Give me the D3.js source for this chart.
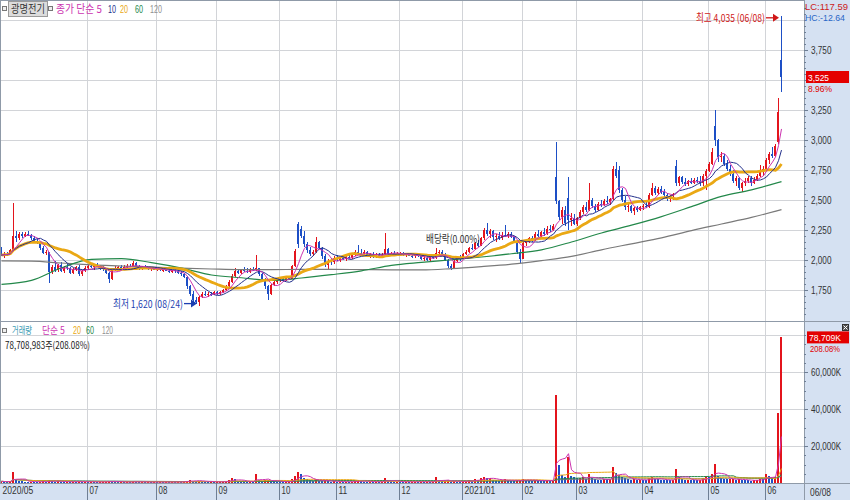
<!DOCTYPE html>
<html><head><meta charset="utf-8">
<script src="https://cdn.jsdelivr.net/npm/d3@7"></script>
<style>
body{margin:0;background:#fff;}
svg{display:block;font-family:"Noto Sans CJK KR","Noto Sans",sans-serif;}
</style></head><body>
<svg id="c" width="850" height="500"></svg>
<script>
// ---------- DATA ----------
const monthIdx = [0,29,52,72,93,112,133,154,174,192,214,236,255];
const monthLabels = ["2020/05","07","08","09","10","11","12","2021/01","02","03","04","05","06"];
const priceTicks = [1750,2000,2250,2500,2750,3000,3250,3750];
const priceGrid = [1750,2000,2250,2500,2750,3000,3250,3500,3750,4000];
const volTicks = [20000,40000,60000];
const volGrid = [20000,40000,60000,80000];
const lastDateLabel = "06/08";

const opens = [
2100,2040,2050,2045,2080,2200,2180,
2215,2200,2220,2210,2180,2160,2140,2100,2060,2070,1900,1940,1920,1960,1910,1940,1930,1890,1920,1940,1880,1910,
1930,1950,1940,1955,1945,1930,1925,1890,1840,1920,1930,1940,1935,1945,1950,1945,1975,1945,1930,1940,1935,1925,1930,
1920,1925,1915,1920,1910,1900,1915,1905,1890,1880,1860,1780,1720,1670,1650,1690,1720,1710,1720,1715,
1730,1720,1735,1750,1780,1820,1870,1910,1890,1915,1910,1900,1925,1915,1930,1880,1840,1780,1720,1790,1815,
1830,1840,1835,1850,1845,1950,2300,2260,2200,2130,2080,2050,2070,2150,2100,2030,1960,1990,1980,
2020,2000,2020,2010,2025,2015,2040,2070,2060,2045,2065,2040,2050,2030,2045,2035,2040,2090,2050,2060,2045,
2050,2055,2040,2050,2035,2030,2045,2030,2010,2020,2000,2025,2015,2060,2070,2045,2000,1950,1935,1990,2020,
2010,2050,2070,2100,2090,2140,2120,2180,2250,2220,2240,2190,2200,2180,2210,2200,2215,2190,2160,2070,
2010,2140,2150,2180,2170,2220,2200,2230,2215,2260,2250,2690,2490,2360,2420,2520,2330,2350,
2300,2350,2400,2440,2420,2500,2450,2420,2470,2460,2490,2480,2510,2760,2750,2580,2500,2440,2450,2410,2430,2420,
2440,2450,2440,2540,2600,2560,2590,2570,2540,2510,2530,2780,2640,2690,2650,2630,2660,2645,2670,2655,2640,2700,
2740,2800,3120,3000,2860,2870,2800,2760,2720,2660,2680,2600,2640,2660,2680,2640,2670,2700,2740,
2760,2830,2880,2870,2980,3665];
const highs = [
2110,2070,2070,2090,2475,2240,2230,
2230,2230,2240,2220,2200,2180,2150,2120,2080,2070,1960,1990,1970,1980,1950,1970,1940,1930,1950,1960,1920,1950,
1960,1970,1965,1975,1960,1950,1935,1900,1930,1950,1950,1960,1955,1965,1970,1990,1985,1955,1950,1955,1945,1940,1945,
1935,1940,1930,1935,1925,1920,1925,1915,1905,1890,1865,1790,1740,1690,1700,1730,1740,1730,1735,1740,
1745,1740,1760,1790,1830,1880,1930,1920,1925,1940,1930,1935,1945,2040,1935,1890,1850,1790,1800,1830,1840,
1850,1855,1860,1870,1960,2090,2320,2280,2240,2150,2110,2080,2190,2160,2110,2050,2010,2020,2030,
2040,2030,2040,2035,2045,2050,2080,2125,2090,2080,2075,2060,2065,2055,2060,2055,2225,2100,2070,2075,2065,
2070,2065,2060,2060,2050,2055,2060,2040,2030,2030,2035,2040,2100,2080,2085,2060,2010,1970,2000,2030,2040,
2060,2080,2110,2130,2150,2170,2190,2270,2310,2260,2250,2220,2230,2230,2290,2235,2230,2200,2170,2090,
2150,2170,2190,2200,2230,2250,2240,2270,2280,2290,2300,2985,2500,2440,2450,2690,2390,2380,
2360,2420,2460,2480,2640,2520,2470,2480,2500,2510,2530,2520,2780,2820,2780,2600,2530,2470,2460,2440,2450,2450,
2470,2480,2560,2640,2620,2610,2620,2590,2560,2540,2560,2835,2700,2700,2680,2670,2680,2680,2690,2700,2720,2760,
2820,2930,3250,3010,2900,2880,2830,2790,2750,2700,2690,2650,2680,2700,2700,2690,2720,2790,2780,
2850,2900,2940,2970,3350,4035];
const lows = [
2030,2020,2030,2040,2075,2150,2170,
2180,2190,2200,2170,2150,2130,2080,2050,2040,1810,1880,1900,1900,1900,1890,1920,1880,1880,1910,1870,1870,1900,
1920,1930,1920,1940,1920,1910,1880,1810,1830,1910,1915,1925,1920,1935,1940,1940,1935,1920,1920,1925,1915,1910,1915,
1905,1910,1900,1905,1890,1890,1895,1880,1870,1850,1760,1700,1650,1630,1620,1680,1700,1695,1700,1705,
1705,1710,1725,1745,1770,1810,1860,1880,1880,1900,1890,1895,1905,1905,1870,1820,1760,1670,1710,1780,1800,
1815,1820,1825,1830,1840,1940,2100,2180,2110,2060,2030,2030,2060,2090,2010,1940,1915,1960,1970,
1990,1985,2000,1995,2005,2010,2030,2050,2030,2035,2030,2020,2020,2015,2025,2020,2035,2040,2030,2035,2030,
2030,2035,2025,2030,2015,2020,2025,2000,1995,1990,1995,2005,2010,2035,2030,1990,1930,1915,1930,1980,1995,
2005,2040,2060,2080,2085,2110,2115,2170,2200,2180,2170,2150,2170,2170,2190,2180,2180,2150,2050,1975,
2005,2120,2140,2150,2160,2190,2180,2200,2210,2230,2240,2470,2330,2300,2280,2250,2280,2290,
2280,2330,2380,2400,2410,2430,2400,2410,2440,2450,2470,2460,2500,2680,2560,2480,2420,2400,2390,2375,2400,2410,
2420,2430,2430,2530,2540,2540,2550,2520,2490,2480,2500,2620,2620,2630,2620,2620,2630,2630,2640,2620,2620,2580,
2730,2790,2950,2820,2820,2780,2740,2700,2640,2620,2580,2570,2620,2640,2620,2630,2660,2690,2700,
2750,2800,2850,2860,2970,3400];
const closes = [
2040,2050,2045,2080,2200,2180,2215,
2200,2220,2210,2180,2160,2140,2100,2060,2070,1900,1940,1920,1960,1910,1940,1930,1890,1920,1940,1880,1910,1930,
1950,1940,1955,1945,1930,1925,1890,1840,1920,1930,1940,1935,1945,1950,1945,1975,1945,1930,1940,1935,1925,1930,1920,
1925,1915,1920,1910,1900,1915,1905,1890,1880,1860,1780,1720,1670,1650,1690,1720,1710,1720,1715,1730,
1720,1735,1750,1780,1820,1870,1910,1890,1915,1910,1900,1925,1915,1930,1880,1840,1780,1720,1790,1815,1830,
1840,1835,1850,1845,1950,2075,2130,2200,2130,2080,2050,2070,2150,2100,2030,1960,1990,1980,2020,
2000,2020,2010,2025,2015,2040,2070,2060,2045,2065,2040,2050,2030,2045,2035,2040,2090,2050,2060,2045,2050,
2055,2040,2050,2035,2030,2045,2030,2010,2020,2000,2025,2015,2060,2070,2045,2000,1950,1935,1990,2020,2010,
2050,2070,2100,2090,2140,2120,2180,2250,2220,2240,2190,2200,2180,2210,2200,2215,2190,2160,2070,2010,
2140,2150,2180,2170,2220,2200,2230,2215,2260,2250,2280,2490,2360,2420,2310,2330,2350,2300,
2350,2400,2440,2420,2500,2450,2420,2470,2460,2490,2480,2510,2760,2700,2580,2500,2440,2450,2410,2430,2420,2440,
2450,2440,2540,2600,2560,2590,2570,2540,2510,2530,2550,2640,2690,2650,2630,2660,2645,2670,2655,2640,2700,2740,
2800,2900,3000,2860,2870,2800,2760,2720,2660,2680,2600,2640,2660,2680,2640,2670,2700,2740,2760,
2830,2880,2870,2950,3235,3525];
// volume in thousand shares
const volumes = [
900,700,600,1100,5900,1800,1000,
900,800,700,800,700,600,700,900,600,1500,1100,800,900,700,600,700,600,800,700,900,600,700,
600,700,600,500,600,700,800,1200,900,600,500,600,500,600,500,900,700,500,600,500,600,500,600,
500,600,500,600,500,600,500,700,600,800,1300,1500,1200,1000,1300,900,700,600,700,600,
600,700,800,1000,1600,2700,1900,1100,900,800,700,900,800,4900,1500,1000,1400,1800,1200,900,800,
700,600,700,800,1900,3800,6000,4800,2700,2000,1500,1200,2100,1300,1100,1400,1000,800,900,
700,800,600,700,600,800,1100,1500,900,800,700,800,600,700,600,700,2700,1200,900,700,800,
700,600,700,600,700,800,600,700,600,700,600,700,3200,1400,900,1000,1300,900,1000,800,700,
900,1100,1500,1200,2000,1500,2500,3000,2600,2800,1700,1400,1300,1600,2000,1400,1200,1100,1500,1600,
2100,1500,1300,1200,1600,1300,1200,1100,1500,1300,1800,47500,9700,4500,3500,14000,4000,3000,
2600,2800,3000,2200,4800,2500,2000,1800,1700,2200,1900,2100,8600,5600,4200,3000,2600,2000,1800,1900,1600,1700,
1600,1500,2800,3200,2000,1900,1700,1600,1500,1400,1800,7600,3200,2100,1700,1800,1600,1500,1400,1500,2600,3800,
3500,5000,10500,4000,2800,2200,1900,2000,2200,1800,2100,1600,1500,1400,1300,1500,1700,2200,2000,
4900,3600,2500,3000,37800,78709];
const maDays = [0,10,20,30,40,50,60,70,80,90,100,110,120,130,140,150,160,170,180,190,200,210,220,230,240,250,260];
const ma60 = [1797,1830,1935,2005,2012,1978,1933,1875,1852,1830,1850,1878,1910,1955,1980,2002,2025,2052,2085,2150,2225,2290,2362,2445,2530,2585,2653];
const ma120 = [1992,1990,1975,1960,1950,1940,1932,1925,1920,1920,1922,1922,1920,1918,1917,1928,1945,1965,1995,2030,2085,2135,2185,2245,2300,2355,2420];
const exDivIdx = 142;

// ---------- SETUP ----------
const PR = 804;
const RED = "#e3141c", BLUE = "#1d4fc6";
const C5 = "#cc33b0", C10 = "#23308c", C20 = "#eaa814", C60 = "#23884a", C120 = "#7a7a7a";
const LAT = "'Liberation Sans','DejaVu Sans',sans-serif";
const svg = d3.select("#c");
const x = d3.scaleLinear().domain([0, 268]).range([0, PR]);
const yP = d3.scaleLinear().domain([2000, 3750]).range([260, 50]);
const yV = d3.scaleLinear().domain([0, 20000]).range([483, 446]);
const fmt = d3.format(",");

// squeeze a text horizontally to width w with a real transform (keeps bbox honest)
function squeeze(sel, w, tx, ty){
  const n = sel.node().getComputedTextLength();
  const s = n > 0 ? w / n : 1;
  sel.attr("x", 0).attr("y", 0).attr("transform", `translate(${tx},${ty}) scale(${s},1)`);
  return sel;
}
function txt(s, tx, ty, color, w, size){
  const kor = /[\uac00-\ud7a3]/.test(s);
  const t = svg.append("text").attr("fill", color)
    .attr("font-family", kor ? null : LAT)
    .attr("font-size", size || (kor ? 11 : 9.5)).text(s);
  return squeeze(t, w, tx, ty);
}

svg.append("rect").attr("width",850).attr("height",500).attr("fill","#fff");
svg.append("rect").attr("x",PR).attr("y",0).attr("width",850-PR).attr("height",500).attr("fill","#d5e1f2");
svg.append("rect").attr("x",0).attr("y",483).attr("width",850).attr("height",17).attr("fill","#d5e1f2");

// grid
const grid = svg.append("g").attr("stroke","#d2d4d8").attr("shape-rendering","crispEdges");
priceGrid.forEach(p => grid.append("line").attr("x1",0).attr("x2",PR).attr("y1",Math.round(yP(p))+0.5).attr("y2",Math.round(yP(p))+0.5));
volGrid.forEach(v => grid.append("line").attr("x1",0).attr("x2",PR).attr("y1",Math.round(yV(v))+0.5).attr("y2",Math.round(yV(v))+0.5));
monthIdx.slice(1).forEach(i => grid.append("line").attr("x1",Math.round(x(i))+0.5).attr("x2",Math.round(x(i))+0.5).attr("y1",0).attr("y2",483));

// frame
const frame = svg.append("g").attr("stroke","#8f9aa8").attr("shape-rendering","crispEdges");
frame.append("line").attr("x1",0.5).attr("x2",0.5).attr("y1",0).attr("y2",483);
frame.append("line").attr("x1",0).attr("x2",PR).attr("y1",0.5).attr("y2",0.5);
frame.append("line").attr("x1",0).attr("x2",850).attr("y1",321.5).attr("y2",321.5);
frame.append("line").attr("x1",0).attr("x2",850).attr("y1",483.5).attr("y2",483.5);
frame.append("line").attr("x1",PR+0.5).attr("x2",PR+0.5).attr("y1",0).attr("y2",500);

// clips
const defs = svg.append("defs");
defs.append("clipPath").attr("id","cp").append("rect").attr("x",1).attr("y",1).attr("width",PR-1).attr("height",320);
defs.append("clipPath").attr("id","cv").append("rect").attr("x",1).attr("y",322).attr("width",PR-1).attr("height",161);

// ---------- PRICE ----------
const gP = svg.append("g").attr("clip-path","url(#cp)");
const idx = d3.range(closes.length);
gP.append("g").attr("shape-rendering","crispEdges").selectAll("g").data(idx).join("g").each(function(i){
  const g = d3.select(this);
  const up = closes[i] >= opens[i];
  const col = up ? RED : BLUE;
  const x0 = Math.round(x(i));
  g.append("rect").attr("x", x0+1).attr("width",1)
    .attr("y", yP(highs[i])).attr("height", Math.max(1, yP(lows[i]) - yP(highs[i]))).attr("fill", col);
  const top = yP(Math.max(opens[i], closes[i])), bot = yP(Math.min(opens[i], closes[i]));
  g.append("rect").attr("x", x0).attr("width",2)
    .attr("y", top).attr("height", Math.max(1, bot-top)).attr("fill", col);
});

function sma(arr, n){ return arr.map((_, i) => d3.mean(arr.slice(Math.max(0, i-n+1), i+1))); }
const lineI = d3.line().x((d,i) => x(i+0.5)).y(d => yP(d));
const lineS = d3.line().x((d,k) => x(maDays[k]+0.5)).y(d => yP(d)).curve(d3.curveMonotoneX);
gP.append("path").attr("d", lineS(ma120)).attr("fill","none").attr("stroke",C120).attr("stroke-width",1.2);
gP.append("path").attr("d", lineS(ma60)).attr("fill","none").attr("stroke",C60).attr("stroke-width",1.2);
gP.append("path").attr("d", lineI(sma(closes,20))).attr("fill","none").attr("stroke",C20).attr("stroke-width",2.8);
gP.append("path").attr("d", lineI(sma(closes,10))).attr("fill","none").attr("stroke",C10).attr("stroke-width",1);
gP.append("path").attr("d", lineI(sma(closes,5))).attr("fill","none").attr("stroke",C5).attr("stroke-width",1);

// ---------- VOLUME ----------
const gV = svg.append("g").attr("clip-path","url(#cv)");
gV.append("g").attr("shape-rendering","crispEdges").selectAll("rect").data(idx).join("rect")
  .attr("x", i => Math.round(x(i))).attr("width", 2)
  .attr("y", i => yV(volumes[i])).attr("height", i => Math.max(1, yV(0) - yV(volumes[i])))
  .attr("fill", i => (i === 0 || volumes[i] >= volumes[i-1]) ? RED : BLUE);
const lineV = d3.line().x((d,i) => x(i+0.5)).y(d => yV(d));
[[120,C120],[60,C60],[20,C20],[5,C5]].forEach(([n,c]) =>
  gV.append("path").attr("d", lineV(sma(volumes,n))).attr("fill","none").attr("stroke",c).attr("stroke-width",1));

// ---------- AXES ----------
const axP = svg.append("g").attr("transform",`translate(${PR},0)`)
  .call(d3.axisRight(yP).tickValues(priceTicks).tickSize(4).tickPadding(3).tickFormat(fmt));
const axPm = svg.append("g").attr("transform",`translate(${PR},0)`)
  .call(d3.axisRight(yP).tickValues(d3.range(1550, 4150, 50)).tickSize(2).tickFormat(""));
const axV = svg.append("g").attr("transform",`translate(${PR},0)`)
  .call(d3.axisRight(yV).tickValues(volTicks).tickSize(4).tickPadding(3).tickFormat(d => fmt(d)+"K"));
const axVm = svg.append("g").attr("transform",`translate(${PR},0)`)
  .call(d3.axisRight(yV).tickValues(d3.range(5000, 85000, 5000)).tickSize(2).tickFormat(""));
const axX = svg.append("g").attr("transform","translate(0,483)")
  .call(d3.axisBottom(x).tickValues(monthIdx).tickSize(17).tickFormat((d,k) => monthLabels[k]));
[axP, axPm, axV, axVm, axX].forEach(a => {
  a.select(".domain").remove();
  a.selectAll(".tick line").attr("stroke","#6f7f95").attr("shape-rendering","crispEdges");
  a.attr("font-family", LAT).attr("font-size", null);
  a.selectAll("text").attr("fill","#333").attr("font-size",10);
});
[axPm, axVm].forEach(a => a.selectAll("text").remove());
axP.selectAll("text").each(function(){ const s = d3.select(this); squeeze(s, s.text().length*4.1, 7, 0); s.attr("dy","0.32em"); });
axV.selectAll("text").each(function(){ const s = d3.select(this); squeeze(s, s.text().length*4.3, 7, 0); s.attr("dy","0.32em"); });
axX.selectAll(".tick").filter(d => d === 0).select("line").remove();
axX.selectAll("text").attr("text-anchor","start").attr("dy","0.75em")
  .each(function(){ const s = d3.select(this); squeeze(s, s.text().length*4.4, 2, 3); s.attr("y",0); });
txt(lastDateLabel, 810, 496, "#333", 21, 10);

// ---------- LABELS ----------
// top-left legend
svg.append("rect").attr("x",2.5).attr("y",6.5).attr("width",4).attr("height",4).attr("fill","#eee").attr("stroke","#777");
svg.append("rect").attr("x",8.5).attr("y",1.5).attr("width",39).attr("height",15).attr("fill","#dcdcdc").attr("stroke","#9a9a9a");
txt("광명전기", 11, 13, "#333", 34);
svg.append("rect").attr("x",48.5).attr("y",6.5).attr("width",4).attr("height",4).attr("fill","#eee").attr("stroke","#777");
txt("종가 단순 5", 56, 13, C5, 46);
txt("10", 108, 13, C10, 8, 10.5);
txt("20", 120, 13, C20, 8, 10.5);
txt("60", 135, 13, C60, 8, 10.5);
txt("120", 150, 13, "#909090", 12, 10.5);

// volume legend
svg.append("rect").attr("x",2.5).attr("y",328.5).attr("width",4).attr("height",4).attr("fill","#eee").attr("stroke","#777");
txt("거래량", 12, 333.5, "#3a9cb4", 20, 10);
txt("단순 5", 42, 333.5, C5, 23, 10);
txt("20", 73, 333.5, C20, 8, 10);
txt("60", 86, 333.5, C60, 8, 10);
txt("120", 102, 333.5, "#909090", 11, 10);
txt("78,708,983주(208.08%)", 5, 348.5, "#222", 85, 10);

// right panel texts
txt("LC:117.59", 805, 10, "#cc2020", 43, 9);
txt("HC:-12.64", 805, 20.5, "#2a66c6", 40, 9);
const last = closes.length - 1;
const lastY = yP(closes[last]);
svg.append("rect").attr("x",806).attr("y",lastY-6).attr("width",43).attr("height",12).attr("fill","#e40000");
txt(fmt(closes[last]), 808, lastY+3.5, "#fff", 21, 9);
txt("8.96%", 808, lastY+15, "#e00000", 24, 9);
const lvY = yV(volumes[last]);
svg.append("rect").attr("x",807).attr("y",lvY-6).attr("width",42).attr("height",12).attr("fill","#e40000");
txt("78,709K", 809, lvY+3.5, "#fff", 32, 9);
txt("208.08%", 810, lvY+14.5, "#e00000", 30, 9);
svg.append("rect").attr("x",842.5).attr("y",324.5).attr("width",6).attr("height",6).attr("fill","#555").attr("stroke","#333");
svg.append("path").attr("d","M843.5,325.5L847.5,329.5M847.5,325.5L843.5,329.5").attr("stroke","#fff");

// high / low annotations
const hiIdx = d3.maxIndex(highs), loIdx = d3.minIndex(lows);
function arrow(tipX, yy, color){
  svg.append("line").attr("x1", tipX-13).attr("x2", tipX-4).attr("y1", yy).attr("y2", yy).attr("stroke", color).attr("stroke-width",1.3);
  svg.append("path").attr("d", `M${tipX},${yy}L${tipX-6},${yy-4}L${tipX-6},${yy+4}Z`).attr("fill", color);
}
const hx = Math.round(x(hiIdx)) - 1, hy = yP(highs[hiIdx]) + 2;
arrow(hx, hy, "#d01818");
txt("최고 4,035 (06/08)", hx-83, hy+4, "#d01818", 69);
const lx = Math.round(x(loIdx)) - 1, ly = yP(lows[loIdx]) - 2;
arrow(lx, ly, "#1c3fb0");
txt("최저 1,620 (08/24)", lx-84, ly+4, "#1c3fb0", 70);
txt("배당락(0.00%)", x(exDivIdx), yP(2140), "#333", 54);
</script>
</body></html>
